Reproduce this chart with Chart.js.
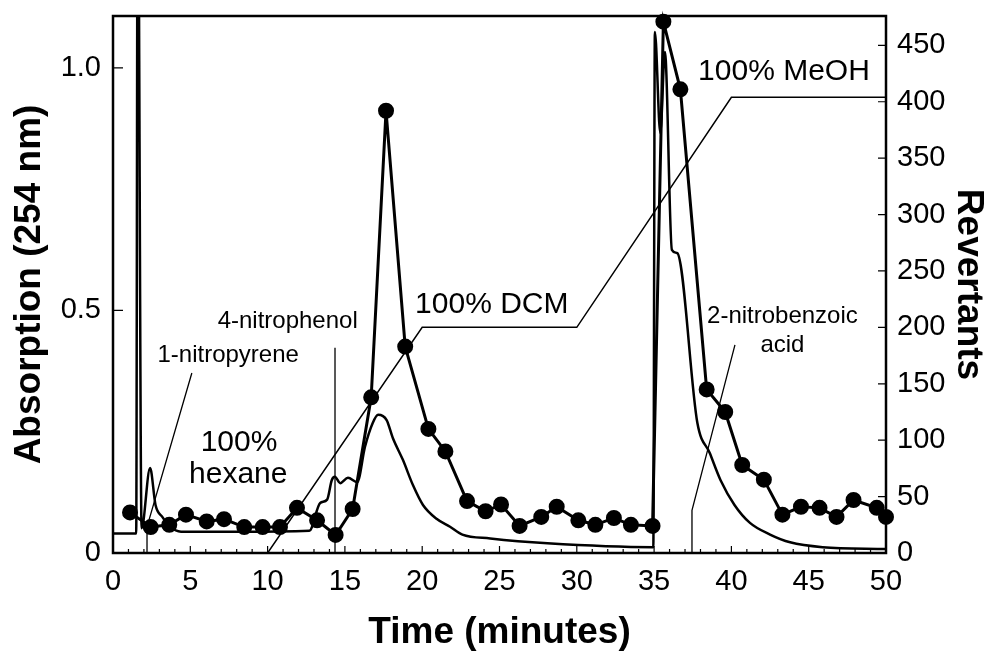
<!DOCTYPE html>
<html>
<head>
<meta charset="utf-8">
<script src="https://cdn.jsdelivr.net/npm/chart.js@4.4.1/dist/chart.umd.min.js"></script>
<style>
	html, body { margin: 0; padding: 0; background: #fff; }
	#wrap { width: 996px; height: 660px; position: relative; }
</style>
</head>
<body>
<div id="wrap"><canvas id="chart"></canvas></div>
<script>
// --- Data ---

// UV absorbance trace at 254 nm (left axis)
const uvTime = [0, 1.5, 1.6, 1.85, 2.4, 2.75, 3.2, 3.7, 4.4, 8.0, 12.7, 13.4, 13.85, 14.15, 14.35, 14.7, 15.2, 15.8, 16.3, 16.8, 17.15, 17.7, 18.1, 18.75, 19.4, 20.05, 20.95, 21.8, 22.6, 24.4, 28.1, 34.95, 35.05, 35.4, 35.7, 36.15, 36.5, 37.8, 38.6, 39.3, 40.2, 41.2, 42.5, 43.8, 45.9, 50];
const uvAbs = [0.040, 0.040, 1.5, 0.051, 0.175, 0.099, 0.074, 0.054, 0.044, 0.044, 0.046, 0.103, 0.110, 0.150, 0.157, 0.144, 0.155, 0.146, 0.219, 0.268, 0.285, 0.274, 0.237, 0.192, 0.140, 0.099, 0.070, 0.054, 0.038, 0.030, 0.020, 0.012, 1.074, 0.866, 1.033, 0.625, 0.618, 0.268, 0.206, 0.150, 0.099, 0.062, 0.038, 0.022, 0.012, 0.008];

// Revertants per collected fraction (right axis)
const revTime = [1.1, 2.44, 3.64, 4.72, 6.06, 7.18, 8.49, 9.68, 10.8, 11.9, 13.2, 14.4, 15.5, 16.7, 17.66, 18.9, 20.4, 21.5, 22.9, 24.1, 25.1, 26.3, 27.7, 28.7, 30.1, 31.2, 32.4, 33.5, 34.9, 35.6, 36.7, 38.4, 39.6, 40.7, 42.1, 43.3, 44.5, 45.7, 46.8, 47.9, 49.4, 50.0];
const revCount = [36, 23, 25, 34, 28, 30, 23, 23, 23, 40, 29, 16, 39, 138, 392, 183, 110, 90, 46, 37, 43, 24, 32, 41, 29, 25, 31, 25, 24, 471, 411, 145, 125, 78, 65, 34, 41, 40, 32, 47, 40, 32];

// Solvent gradient (hexane -> DCM -> MeOH), drawn against the right axis
const gradTime = [10, 20, 30, 40, 50];
const gradLevel = [0, 200, 200, 404, 404];

// Pointer lines for the reference standards (left axis units)
const nitropyreneTime = [5.1, 2.2, 2.2];
const nitropyreneAbs = [0.371, 0.054, 0];
const nitrophenolTime = [14.36, 14.36];
const nitrophenolAbs = [0.423, 0];
const nitrobenzoicTime = [40.23, 37.45, 37.45];
const nitrobenzoicAbs = [0.429, 0.088, 0];

// Tick labels
const xTicks = [0, 5, 10, 15, 20, 25, 30, 35, 40, 45, 50];
const absTicks = [0, 0.5, 1.0];
const revTicks = [0, 50, 100, 150, 200, 250, 300, 350, 400, 450];

// --- Helpers ---

const FONT = '"Liberation Sans", Arial, Helvetica, sans-serif';
const toPoints = (xs, ys) => xs.map((x, i) => ({ x, y: ys[i] }));

// Text notes placed in data units (time, absorbance)
const notes = [
	{ text: '4-nitrophenol', t: 11.3, a: 0.478, size: 24 },
	{ text: '1-nitropyrene', t: 7.45, a: 0.407, size: 24 },
	{ text: '100%', t: 8.15, a: 0.227, size: 30 },
	{ text: 'hexane', t: 8.1, a: 0.161, size: 30 },
	{ text: '100% DCM', t: 24.5, a: 0.511, size: 30 },
	{ text: '100% MeOH', t: 43.4, a: 0.992, size: 30 },
	{ text: '2-nitrobenzoic', t: 43.3, a: 0.487, size: 24 },
	{ text: 'acid', t: 43.3, a: 0.429, size: 24 }
];

// Plot frame and small inward tick marks
const framePlugin = {
	id: 'framePlugin',
	beforeDatasetsDraw(chart) {
		const { ctx, chartArea: a, scales } = chart;
		ctx.save();
		ctx.strokeStyle = '#000';
		ctx.lineWidth = 2.5;
		ctx.strokeRect(a.left, a.top, a.right - a.left, a.bottom - a.top);

		ctx.lineWidth = 1.2;
		ctx.beginPath();
		absTicks.filter(v => v > 0).forEach(v => {
			const y = scales.y.getPixelForValue(v);
			ctx.moveTo(a.left, y);
			ctx.lineTo(a.left + 10, y);
		});
		revTicks.filter(v => v > 0).forEach(v => {
			const y = scales.y1.getPixelForValue(v);
			ctx.moveTo(a.right, y);
			ctx.lineTo(a.right - 8, y);
		});
		for (let m = 1; m < 50; m++) {
			const x = scales.x.getPixelForValue(m);
			ctx.moveTo(x, a.bottom);
			ctx.lineTo(x, a.bottom - (m % 5 === 0 ? 7 : 4));
		}
		ctx.stroke();
		ctx.restore();
	}
};

const notesPlugin = {
	id: 'notesPlugin',
	afterDraw(chart) {
		const { ctx, scales } = chart;
		ctx.save();
		ctx.fillStyle = '#000';
		ctx.textAlign = 'center';
		ctx.textBaseline = 'middle';
		notes.forEach(n => {
			ctx.font = `${n.size}px ${FONT}`;
			ctx.fillText(n.text, scales.x.getPixelForValue(n.t), scales.y.getPixelForValue(n.a));
		});
		ctx.restore();
	}
};

// --- Chart ---

const pointerLine = (xs, ys) => ({
	data: toPoints(xs, ys),
	yAxisID: 'y',
	borderColor: '#000',
	borderWidth: 1.3,
	pointRadius: 0,
	tension: 0
});

// keep the plot box where the figure has it (no extra label padding)
const fixWidth = w => s => { s.width = w; s.paddingTop = 0; s.paddingBottom = 0; };

new Chart(document.getElementById('chart'), {
	type: 'line',
	data: {
		datasets: [
			{
				label: 'Revertants',
				data: toPoints(revTime, revCount),
				yAxisID: 'y1',
				borderColor: '#000',
				backgroundColor: '#000',
				borderWidth: 3,
				pointRadius: 6.5,
				pointBackgroundColor: '#000',
				pointBorderColor: '#000',
				tension: 0,
				clip: false
			},
			{
				label: 'Absorption',
				data: toPoints(uvTime, uvAbs),
				yAxisID: 'y',
				borderColor: '#000',
				borderWidth: 2.5,
				pointRadius: 0,
				cubicInterpolationMode: 'monotone'
			},
			{
				label: 'Gradient',
				data: toPoints(gradTime, gradLevel),
				yAxisID: 'y1',
				borderColor: '#000',
				borderWidth: 1.5,
				pointRadius: 0,
				tension: 0
			},
			pointerLine(nitropyreneTime, nitropyreneAbs),
			pointerLine(nitrophenolTime, nitrophenolAbs),
			pointerLine(nitrobenzoicTime, nitrobenzoicAbs)
		]
	},
	options: {
		responsive: true,
		maintainAspectRatio: false,
		animation: false,
		layout: { padding: { top: 16, left: 0, right: 0, bottom: 0 } },
		plugins: {
			legend: { display: false },
			tooltip: { enabled: false }
		},
		scales: {
			x: {
				type: 'linear', min: 0, max: 50,
				afterBuildTicks: s => { s.ticks = xTicks.map(v => ({ value: v })); },
				afterFit: s => { s.height = 107; s.paddingLeft = 0; s.paddingRight = 0; },
				grid: { display: false, drawTicks: false },
				border: { display: false },
				ticks: { color: '#000', autoSkip: false, maxRotation: 0, padding: 12, font: { family: FONT, size: 29 } },
				title: {
					display: true, text: 'Time (minutes)', color: '#000',
					font: { family: FONT, size: 37, weight: 'bold', lineHeight: 1 },
					padding: { top: 0, bottom: 9 }
				}
			},
			y: {
				type: 'linear', position: 'left', min: 0, max: 1.107,
				afterBuildTicks: s => { s.ticks = absTicks.map(v => ({ value: v })); },
				afterFit: fixWidth(113),
				grid: { display: false, drawTicks: false },
				border: { display: false },
				ticks: {
					color: '#000', padding: 12, font: { family: FONT, size: 29 },
					callback: v => (v === 0 ? '0' : v.toFixed(1))
				},
				title: {
					display: true, text: 'Absorption (254 nm)', color: '#000',
					font: { family: FONT, size: 37, weight: 'bold', lineHeight: 1 },
					padding: { top: 11, bottom: 0 }
				}
			},
			y1: {
				type: 'linear', position: 'right', min: 0, max: 476,
				afterBuildTicks: s => { s.ticks = revTicks.map(v => ({ value: v })); },
				afterFit: fixWidth(110),
				grid: { display: false, drawTicks: false },
				border: { display: false },
				ticks: { color: '#000', padding: 11, font: { family: FONT, size: 29 } },
				title: {
					display: true, text: 'Revertants', color: '#000',
					font: { family: FONT, size: 37, weight: 'bold', lineHeight: 1 },
					padding: { top: 9, bottom: 0 }
				}
			}
		}
	},
	plugins: [framePlugin, notesPlugin]
});
</script>
</body>
</html>
